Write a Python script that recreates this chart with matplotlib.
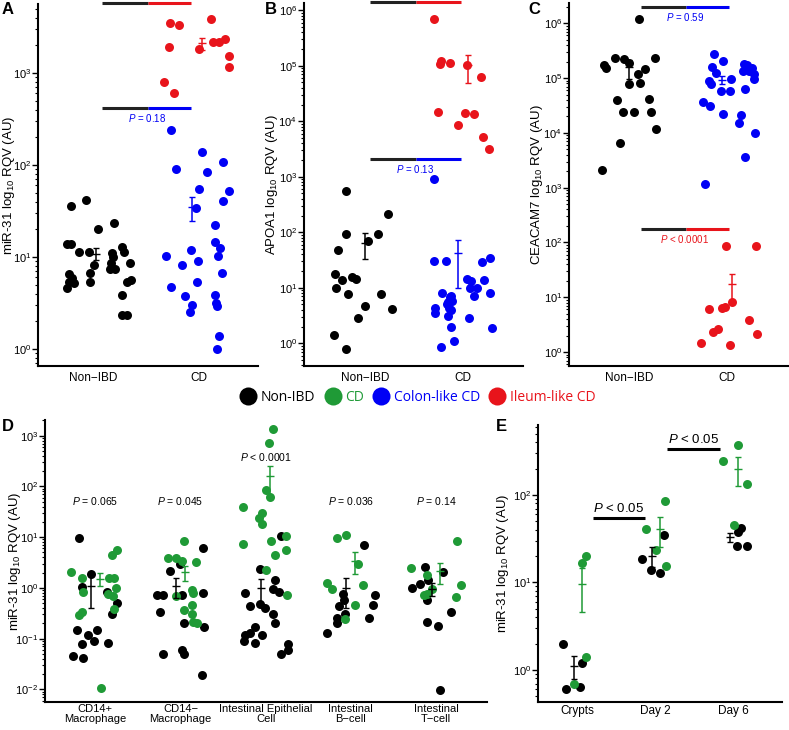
import numpy as np
import matplotlib
matplotlib.use('Agg')
import matplotlib.pyplot as plt
from matplotlib.lines import Line2D
from matplotlib.ticker import LogLocator, NullFormatter

plt.rcParams['font.family'] = ['Liberation Sans', 'DejaVu Sans']
plt.rcParams['mathtext.fontset'] = 'custom'
plt.rcParams['mathtext.rm'] = 'Liberation Sans'
plt.rcParams['mathtext.it'] = 'Liberation Sans:italic'
plt.rcParams['mathtext.bf'] = 'Liberation Sans:bold'

BLACK = '#000000'
GREEN = '#1f9a36'
BLUE = '#0000f5'
RED = '#e8141b'

# ---------------- data ----------------
groups_ab = ['Non\u2212IBD', 'CD']

# A: miR-31
a_non = [36, 42, 20, 23.4, 13.8, 13.8, 11.3, 11.3, 8.2, 6.7, 5.4, 6.5, 5.9, 5.2, 5.4, 4.6,
         11, 10, 8.6, 7.4, 7.4, 12.9, 11.3, 8.6, 5.4, 5.6, 3.9, 2.34, 2.34]
a_non_x = [-0.21, -0.07, 0.05, 0.20, -0.25, -0.21, -0.13, -0.04, 0.01, -0.03, -0.03, -0.23, -0.20,
           -0.18, -0.23, -0.25, 0.18, 0.19, 0.17, 0.21, 0.16, 0.27, 0.29, 0.35, 0.32, 0.36, 0.27,
           0.27, 0.32]
a_colon = [240, 91, 138, 84, 107, 55, 52, 41, 34, 22, 10.2, 12, 8.2, 9.1, 14.6, 12.5, 10.3, 6.7,
           4.7, 3.8, 5.4, 3.0, 2.5, 3.9, 3.2, 2.9, 1.4, 1.0]
a_colon_x = [-0.26, -0.22, 0.03, 0.08, 0.23, 0.0, 0.29, 0.23, -0.03, 0.15, -0.31, -0.07, -0.16,
             -0.01, 0.15, 0.20, 0.18, 0.22, -0.26, -0.13, -0.02, -0.06, -0.08, 0.15, 0.16, 0.17,
             0.19, 0.17]
a_ileum = [3490, 3320, 3860, 1910, 1820, 2180, 2180, 2340, 1520, 1170, 800, 605]
a_ileum_x = [-0.27, -0.19, 0.12, -0.28, 0.0, 0.13, 0.19, 0.25, 0.29, 0.29, -0.33, -0.23]

# B: APOA1
b_non = [550, 210, 92, 92, 69, 47.6, 18, 13.7, 9.8, 15.4, 14.2, 7.6, 7.6, 4.6, 4.1, 2.9, 1.4, 0.78]
b_non_x = [-0.19, 0.24, -0.19, 0.13, 0.03, -0.27, -0.30, -0.23, -0.29, -0.13, -0.09, -0.17, 0.16,
           0.0, 0.28, -0.07, -0.31, -0.19]
b_colon = [30, 30, 8, 4.4, 3.5, 2.0, 1.08, 0.85, 5.5, 6.7, 7.0, 5.2, 5.7, 4.3, 3.9, 3.1, 2.8, 14.2,
           13.1, 9.8, 7.0, 9.8, 13.7, 29, 34, 8, 1.86, 900]
b_colon_x = [-0.30, -0.17, -0.21, -0.29, -0.29, -0.12, -0.09, -0.23, -0.15, -0.13, -0.12, -0.16,
             -0.11, -0.14, -0.12, -0.15, 0.06, 0.04, 0.08, 0.07, 0.11, 0.14, 0.21, 0.19, 0.27, 0.27,
             0.29, -0.30]
b_ileum = [690000, 106000, 120000, 112000, 102000, 62000, 14500, 13900, 13400, 8500, 5150, 3150]
b_ileum_x = [-0.30, -0.24, -0.22, -0.13, 0.04, 0.18, -0.26, 0.02, 0.11, -0.05, 0.20, 0.26]

# C: CEACAM7
c_non = [1200000, 230000, 223000, 173000, 152000, 186000, 145000, 118000, 230000, 78000, 81000,
         40000, 41500, 24000, 24000, 24000, 11700, 6500, 2100]
c_non_x = [0.10, -0.14, -0.05, -0.25, -0.23, 0.0, 0.16, 0.09, 0.27, 0.0, 0.11, -0.12, 0.20, -0.06,
           0.05, 0.22, 0.28, -0.09, -0.27]
c_colon = [275000, 204000, 159000, 124000, 89000, 78000, 96000, 58000, 58000, 36000, 31000, 22000,
           21000, 15000, 3600, 1170, 10000, 63000, 180000, 173000, 152000, 134000, 134000, 118000,
           96000]
c_colon_x = [-0.13, -0.04, -0.15, -0.11, -0.18, -0.16, 0.04, -0.06, 0.03, -0.25, -0.17, -0.04, 0.14,
             0.12, 0.18, -0.23, 0.28, 0.18, 0.17, 0.20, 0.25, 0.16, 0.22, 0.27, 0.27]
c_ileum = [86, 86, 8.2, 6.6, 6.3, 6.1, 3.8, 2.6, 2.3, 2.1, 1.46, 1.34]
c_ileum_x = [-0.01, 0.29, 0.05, -0.02, -0.05, -0.18, 0.22, -0.09, -0.14, 0.30, -0.27, 0.03]

a_pvals = ['$\\it{P}$ < 0.0001', '$\\it{P}$ = 0.18']
b_pvals = ['$\\it{P}$ < 0.0001', '$\\it{P}$ = 0.13']
c_pvals = ['$\\it{P}$ = 0.59', '$\\it{P}$ < 0.0001']

# D: miR-31 in sorted cell types
d_cells = ['CD14+\nMacrophage', 'CD14\u2212\nMacrophage', 'Intestinal Epithelial\nCell',
           'Intestinal\nB\u2212cell', 'Intestinal\nT\u2212cell']
d_non = [
    [9.8, 1.9, 1.05, 0.83, 0.51, 0.15, 0.15, 0.12, 0.08, 0.09, 0.083, 0.045, 0.042, 0.30],
    [2.2, 2.9, 0.74, 0.71, 0.34, 0.72, 0.20, 0.81, 6.2, 0.17, 0.050, 0.059, 0.049, 0.0195],
    [2.4, 0.81, 0.44, 0.49, 0.40, 1.46, 0.94, 0.31, 0.20, 0.17, 0.13, 0.12, 0.089, 0.082, 0.12,
     10.6, 0.83, 0.050, 0.059, 0.080],
    [6.9, 0.75, 0.57, 0.44, 0.31, 0.25, 0.20, 0.13, 0.26, 0.46, 0.72],
    [1.0, 1.18, 2.6, 1.42, 0.57, 0.21, 0.18, 2.1, 0.34, 0.0099],
]
d_non_x = [
    [-0.19, -0.05, -0.15, 0.14, 0.26, -0.22, 0.02, -0.09, -0.15, -0.01, 0.15, -0.26, -0.14, 0.20],
    [-0.12, 0.0, -0.20, -0.27, -0.24, 0.02, 0.04, 0.26, 0.27, 0.28, -0.20, 0.02, 0.04, 0.25],
    [-0.07, -0.24, -0.18, -0.07, -0.01, 0.11, 0.09, 0.09, 0.11, -0.13, -0.18, -0.24, -0.25, -0.13,
     -0.04, 0.18, 0.16, 0.18, 0.26, 0.26],
    [0.15, -0.09, -0.08, -0.14, -0.07, -0.16, -0.16, -0.28, 0.22, 0.26, 0.29],
    [-0.28, -0.19, -0.13, -0.09, -0.11, -0.11, 0.02, 0.08, 0.18, 0.05],
]
d_cd = [
    [2.05, 1.6, 0.83, 0.33, 0.29, 0.0105, 1.6, 1.6, 1.0, 0.75, 0.69, 0.39, 4.5, 5.7],
    [3.8, 3.8, 3.4, 8.3, 3.3, 0.69, 0.9, 0.78, 0.46, 0.30, 0.36, 0.21, 0.20],
    [1370, 720, 85, 63, 40, 30, 24, 18, 8.3, 7.3, 2.3, 4.5, 10.7, 5.5, 0.72],
    [9.7, 11, 1.25, 0.94, 2.9, 1.13, 0.47, 0.24],
    [2.5, 1.83, 0.72, 0.77, 0.94, 8.4, 1.16, 0.66],
]
d_cd_x = [
    [-0.28, -0.16, -0.14, -0.15, -0.19, 0.07, 0.16, 0.22, 0.24, 0.15, 0.21, 0.22, 0.20, 0.25],
    [-0.15, -0.05, 0.02, 0.04, 0.18, -0.05, 0.14, 0.15, 0.14, 0.14, 0.04, 0.15, 0.20],
    [0.09, 0.04, 0.01, 0.05, -0.26, -0.04, -0.08, -0.04, 0.06, -0.27, 0.01, 0.11, 0.24, 0.24, 0.25],
    [-0.16, -0.05, -0.28, -0.22, 0.09, 0.14, 0.05, -0.07],
    [-0.29, -0.11, -0.14, -0.11, -0.04, 0.25, 0.29, 0.24],
]
d_pvals = ['= 0.065', '= 0.045', '< 0.0001', '= 0.036', '= 0.14']
d_pval_y = [52, 52, 380, 52, 52]

# E: organoid time course
e_days = ['Crypts', 'Day 2', 'Day 6']
e_non = [[2.0, 1.2, 0.60, 0.64], [18.6, 13.8, 12.8, 35], [38, 42, 26, 26]]
e_non_x = [[-0.19, 0.06, -0.15, 0.03], [-0.17, -0.06, 0.05, 0.10], [0.06, 0.10, 0.04, 0.17]]
e_cd = [[20, 16.6, 1.4, 0.69], [85, 41, 23.5, 15.5], [370, 245, 134, 45]]
e_cd_x = [[0.10, 0.06, 0.10, -0.05], [0.12, -0.12, 0.0, 0.13], [0.05, -0.14, 0.17, 0.0]]
e_sig = [(0.19, 0.86, 55), (1.15, 1.82, 337)]

legend_labels = ['Non-IBD', 'CD', 'Colon-like CD', 'Ileum-like CD']
legend_colors = [BLACK, GREEN, BLUE, RED]

W, H = 789, 730


def px_box(l, t, r, b):
    return [l / W, 1 - b / H, (r - l) / W, (b - t) / H]


def style_axis(ax, xlim, ylim, labels, ylabel, label_x, xfont=8.5, xpad=4):
    ax.set_yscale('log')
    ax.set_xlim(*xlim)
    ax.set_ylim(*ylim)
    for s in ['top', 'right']:
        ax.spines[s].set_visible(False)
    for s in ['left', 'bottom']:
        ax.spines[s].set_linewidth(1.5)
    ax.yaxis.set_major_locator(LogLocator(base=10, numticks=30))
    ax.yaxis.set_minor_locator(LogLocator(base=10, subs=np.arange(2, 10), numticks=30))
    ax.yaxis.set_minor_formatter(NullFormatter())
    ax.tick_params(axis='y', which='major', length=4, width=1, labelsize=8, pad=1)
    ax.tick_params(axis='y', which='minor', length=2, width=0.8)
    ax.set_xticks(range(len(labels)))
    ax.set_xticklabels(labels, fontsize=xfont, linespacing=0.95)
    ax.tick_params(axis='x', length=0, pad=xpad)
    ax.set_ylabel(ylabel, fontsize=9.5)
    ax.yaxis.set_label_coords(label_x, 0.5)


def plot_group(ax, xc, vals, offs, color, bar_dx):
    vals = np.array(vals, dtype=float)
    offs = np.array(offs, dtype=float)
    ax.scatter(xc + offs, vals, s=42, color=color, linewidths=0, zorder=2, clip_on=False)
    m = vals.mean()
    se = vals.std(ddof=1) / np.sqrt(len(vals))
    ax.errorbar(xc + bar_dx, m, yerr=se, fmt='_', color=color, ms=6, mew=1,
                elinewidth=1.1, capsize=2.5, capthick=1.1, zorder=3)


def sig_bar(ax, xs, y, color, text):
    x0, xm, x1 = xs
    ax.plot([x0, xm], [y, y], color='#222222', lw=2.2, solid_capstyle='butt', clip_on=False)
    ax.plot([xm, x1], [y, y], color=color, lw=2.2, solid_capstyle='butt', clip_on=False)
    ax.annotate(text, xy=((x0 + x1) / 2, y), xytext=(0, -7), textcoords='offset points',
                ha='center', va='center', color=color, fontsize=7)


fig = plt.figure(figsize=(W / 100, H / 100), dpi=100)

ylabel_mir = 'miR-31 log$_{10}$ RQV (AU)'

# ---- A ----
ax = fig.add_axes(px_box(38, 4, 258, 366))
style_axis(ax, (-0.52, 1.56), (10 ** -0.185, 10 ** 3.75), groups_ab, ylabel_mir, -0.095)
plot_group(ax, 0, a_non, a_non_x, BLACK, 0.03)
plot_group(ax, 1, a_colon, a_colon_x, BLUE, -0.06)
plot_group(ax, 1, a_ileum, a_ileum_x, RED, 0.03)
sig_bar(ax, (0.085, 0.52, 0.93), 10 ** 3.76, RED, a_pvals[0])
sig_bar(ax, (0.085, 0.52, 0.93), 10 ** 2.62, BLUE, a_pvals[1])

# ---- B ----
ax = fig.add_axes(px_box(304, 3, 523, 366))
style_axis(ax, (-0.62, 1.61), (10 ** -0.41, 10 ** 6.13), groups_ab,
           'APOA1 log$_{10}$ RQV (AU)', -0.11)
plot_group(ax, 0, b_non, b_non_x, BLACK, 0.0)
plot_group(ax, 1, b_colon, b_colon_x, BLUE, -0.05)
plot_group(ax, 1, b_ileum, b_ileum_x, RED, 0.05)
sig_bar(ax, (0.05, 0.52, 0.98), 10 ** 6.14, RED, b_pvals[0])
sig_bar(ax, (0.05, 0.52, 0.98), 10 ** 3.32, BLUE, b_pvals[1])

# ---- C ----
ax = fig.add_axes(px_box(569, 3, 788, 366))
style_axis(ax, (-0.61, 1.62), (10 ** -0.255, 10 ** 6.37), groups_ab,
           'CEACAM7 log$_{10}$ RQV (AU)', -0.11)
plot_group(ax, 0, c_non, c_non_x, BLACK, 0.0)
plot_group(ax, 1, c_colon, c_colon_x, BLUE, -0.05)
plot_group(ax, 1, c_ileum, c_ileum_x, RED, 0.05)
sig_bar(ax, (0.12, 0.58, 1.02), 10 ** 6.30, BLUE, c_pvals[0])
sig_bar(ax, (0.12, 0.58, 1.02), 10 ** 2.24, RED, c_pvals[1])

# ---- D ----
ax = fig.add_axes(px_box(45, 420, 487, 702))
style_axis(ax, (-0.59, 4.6), (10 ** -2.25, 10 ** 3.31), d_cells, ylabel_mir, -0.05,
           xfont=8, xpad=1.5)
for i in range(len(d_cells)):
    plot_group(ax, i, d_non[i], d_non_x[i], BLACK, -0.05)
    plot_group(ax, i, d_cd[i], d_cd_x[i], GREEN, 0.05)
    ax.text(i, d_pval_y[i], '$\\it{P}$ ' + d_pvals[i], ha='center', va='center', fontsize=7.5)

# ---- E ----
ax = fig.add_axes(px_box(538, 425, 782, 702))
style_axis(ax, (-0.51, 2.62), (10 ** -0.366, 10 ** 2.8), e_days, ylabel_mir, -0.11,
           xfont=8.5, xpad=2)
for i in range(len(e_days)):
    plot_group(ax, i, e_non[i], e_non_x[i], BLACK, -0.05)
    plot_group(ax, i, e_cd[i], e_cd_x[i], GREEN, 0.05)
for x0, x1, y in e_sig:
    ax.plot([x0, x1], [y, y], color=BLACK, lw=2.2, solid_capstyle='butt', clip_on=False)
    ax.annotate('$\\it{P}$ < 0.05', xy=((x0 + x1) / 2, y), xytext=(0, 6.5),
                textcoords='offset points', ha='center', va='center', fontsize=9.5,
                annotation_clip=False)

# ---- legend ----
handles = [Line2D([], [], marker='o', ls='', color=c, markersize=13, markeredgewidth=0)
           for c in legend_colors]
fig.legend(handles, legend_labels, loc='center', bbox_to_anchor=(0.529, 1 - 397 / H), ncol=4,
           frameon=False, handletextpad=0.25, columnspacing=0.6, handlelength=1.3,
           borderpad=0.2, labelcolor=legend_colors, prop={'family': 'Open Sans', 'size': 10})

# ---- panel letters ----
for letter, (x, y) in zip('ABCDE', [(2, 2), (265, 2), (528, 2), (2, 419), (496, 419)]):
    fig.text(x / W, 1 - y / H, letter, fontsize=12, fontweight='bold', ha='left', va='top')

fig.savefig('out.png', dpi=100)
